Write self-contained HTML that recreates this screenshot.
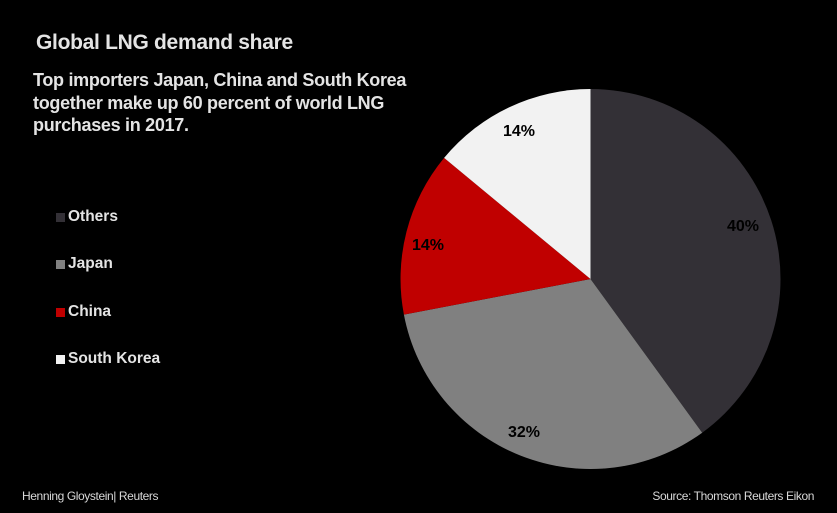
<!DOCTYPE html>
<html><head><meta charset="utf-8"><style>
body{margin:0;background:#000;width:837px;height:513px;overflow:hidden;font-family:"Liberation Sans",sans-serif;color:#e4e4e4;position:relative}
.t{position:absolute;white-space:nowrap}
.sq{position:absolute;width:9px;height:9px}
.lg{position:absolute;left:68px;font-size:15.5px;font-weight:bold;line-height:18px}
</style></head><body>
<div class="t" style="left:36px;top:31px;font-size:21px;font-weight:bold;letter-spacing:-0.3px">Global LNG demand share</div>
<div class="t" style="left:33px;top:69px;font-size:18px;font-weight:bold;line-height:22.5px;letter-spacing:-0.3px">Top importers Japan, China and South Korea<br>together make up 60 percent of world LNG<br>purchases in 2017.</div>
<div class="sq" style="left:56px;top:213px;background:#333036"></div><div class="lg" style="top:208px">Others</div>
<div class="sq" style="left:56px;top:260px;background:#808080"></div><div class="lg" style="top:255px">Japan</div>
<div class="sq" style="left:56px;top:308px;background:#c00000"></div><div class="lg" style="top:303px">China</div>
<div class="sq" style="left:56px;top:355px;background:#f2f2f2"></div><div class="lg" style="top:350px">South Korea</div>
<svg width="837" height="513" style="position:absolute;left:0;top:0">
<path d="M590.5,279 L590.5,89 A190,190 0 0 1 702.2,432.7 Z" fill="#333036"/>
<path d="M590.5,279 L702.2,432.7 A190,190 0 0 1 403.9,314.6 Z" fill="#808080"/>
<path d="M590.5,279 L403.9,314.6 A190,190 0 0 1 444.1,157.9 Z" fill="#c00000"/>
<path d="M590.5,279 L444.1,157.9 A190,190 0 0 1 590.5,89 Z" fill="#f2f2f2"/>
<g font-family="Liberation Sans,sans-serif" font-size="16" font-weight="bold" fill="#000" text-anchor="middle">
<text x="743" y="231">40%</text>
<text x="524" y="437">32%</text>
<text x="428" y="250">14%</text>
<text x="519" y="136">14%</text>
</g></svg>
<div class="t" style="left:22px;top:489px;font-size:12px;color:#d8d8d8;letter-spacing:-0.4px">Henning Gloystein| Reuters</div>
<div class="t" style="right:23px;top:489px;font-size:12px;color:#d8d8d8;letter-spacing:-0.4px">Source: Thomson Reuters Eikon</div>
</body></html>
